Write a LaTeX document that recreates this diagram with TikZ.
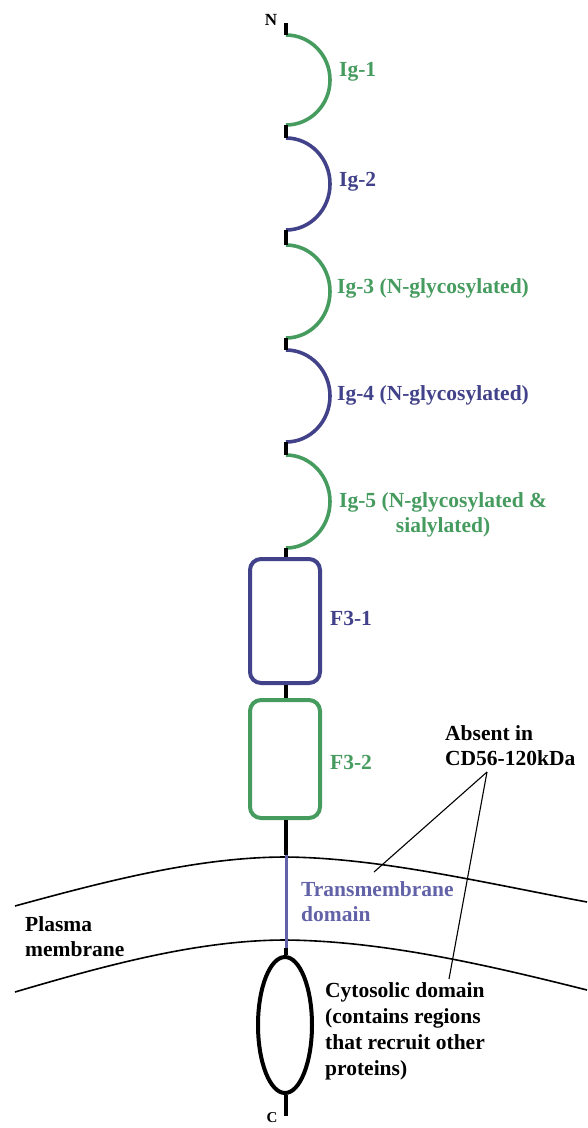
\documentclass[tikz,border=0pt]{standalone}
\usepackage{fontspec}
\setmainfont{Liberation Serif}
\usetikzlibrary{shapes.geometric}
\definecolor{igG}{RGB}{70,155,95}
\definecolor{igB}{RGB}{66,66,138}
\definecolor{tmB}{RGB}{98,98,168}
\begin{document}
\begin{tikzpicture}[x=1pt,y=-1pt,
  lbl/.style={font=\bfseries\fontsize{21.5}{25}\selectfont, inner sep=0pt, anchor=west, align=left},
  endlbl/.style={font=\bfseries\fontsize{17}{17}\selectfont, inner sep=0pt},
  stub/.style={line width=4pt, draw=black},
  igarc/.style={line width=3.6pt},
  fbox/.style={draw, line width=4pt, rounded corners=11pt, minimum width=70pt, fill=white, inner sep=0pt},
  memb/.style={line width=1.6pt},
  ptr/.style={line width=1.1pt}]
\useasboundingbox (0,0) rectangle (587,1128);
% membrane
\coordinate (mtl) at (15,906);
\coordinate (mtp) at (286,857);
\coordinate (mtr) at (587,902);
\coordinate (mbl) at (15,992);
\coordinate (mbp) at (286,940);
\coordinate (mbr) at (587,990);
\draw[memb] (mtl) .. controls (110,880) and (200,857) .. (mtp) .. controls (380,858) and (480,882) .. (mtr);
\draw[memb] (mbl) .. controls (110,964) and (200,940) .. (mbp) .. controls (380,941) and (480,963) .. (mbr);
% backbone coordinates
\coordinate (ntip) at (286,23);
\coordinate (s1) at (286,35);  \coordinate (e1) at (286,125);
\coordinate (s2) at (286,138); \coordinate (e2) at (286,230);
\coordinate (s3) at (286,245); \coordinate (e3) at (286,338);
\coordinate (s4) at (286,350); \coordinate (e4) at (286,442);
\coordinate (s5) at (286,455); \coordinate (e5) at (286,548);
\coordinate (tmtop) at (286,855);
\coordinate (tmbot) at (286,948);
\coordinate (ctip) at (286,1116);
% Ig domains
\draw[igarc, igG] (s1) arc[start angle=-90, end angle=90, x radius=44, y radius=45];
\draw[igarc, igB] (s2) arc[start angle=-90, end angle=90, x radius=44, y radius=46];
\draw[igarc, igG] (s3) arc[start angle=-90, end angle=90, x radius=44, y radius=46.5];
\draw[igarc, igB] (s4) arc[start angle=-90, end angle=90, x radius=44, y radius=46];
\draw[igarc, igG] (s5) arc[start angle=-90, end angle=90, x radius=44, y radius=46.5];
% F3 boxes and cytosolic domain
\node[fbox, draw=igB, minimum height=124pt] (f1) at (285,621) {};
\node[fbox, draw=igG, minimum height=118pt] (f2) at (285,759) {};
\node[draw, ellipse, line width=4pt, minimum width=54pt, minimum height=136pt, inner sep=0pt] (cyto) at (285,1025) {};
% stubs
\draw[stub] (ntip) -- (s1);
\draw[stub] (e1) -- (s2);
\draw[stub] (e2) -- (s3);
\draw[stub] (e3) -- (s4);
\draw[stub] (e4) -- (s5);
\draw[stub] (e5) -- (e5 |- f1.north);
\draw[stub] (f1.south -| e5) -- (f2.north -| e5);
\draw[stub] (f2.south -| e5) -- (tmtop);
\draw[line width=3pt, tmB] (tmtop) -- (tmbot);
\draw[stub] (tmbot) -- (tmbot |- cyto.north);
\draw[stub] (ctip |- cyto.south) -- (ctip);
% labels
\node[endlbl] (nlab) at (271,20) {N};
\node[endlbl, font=\bfseries\fontsize{15}{15}\selectfont] (clab) at (272,1118) {C};
\node[lbl, text=igG] (l1) at (339,72) {Ig-1};
\node[lbl, text=igB] (l2) at (339,182) {Ig-2};
\node[lbl, text=igG] (l3) at (337,288) {Ig-3 (N-glycosylated)};
\node[lbl, text=igB] (l4) at (337,395) {Ig-4 (N-glycosylated)};
\node[lbl, text=igG, align=center] (l5) at (339,515) {Ig-5 (N-glycosylated \&\\sialylated)};
\node[lbl, text=igB] (lf1) at (330,618) {F3-1};
\node[lbl, text=igG] (lf2) at (330,762) {F3-2};
\node[lbl] (absent) at (445,746) {Absent in\\CD56-120kDa};
\node[lbl, text=tmB] (ltm) at (301,902) {Transmembrane\\domain};
\node[lbl] (lpm) at (25,937) {Plasma\\membrane};
\node[lbl, font=\bfseries\fontsize{21.5}{26}\selectfont] (lcy) at (325,1031) {Cytosolic domain\\(contains regions\\that recruit other\\proteins)};
% pointers
\coordinate (apex) at (487,772);
\coordinate (p1) at (374,872);
\coordinate (p2) at (449,979);
\draw[ptr] (apex) -- (p1);
\draw[ptr] (apex) -- (p2);
\end{tikzpicture}
\end{document}
